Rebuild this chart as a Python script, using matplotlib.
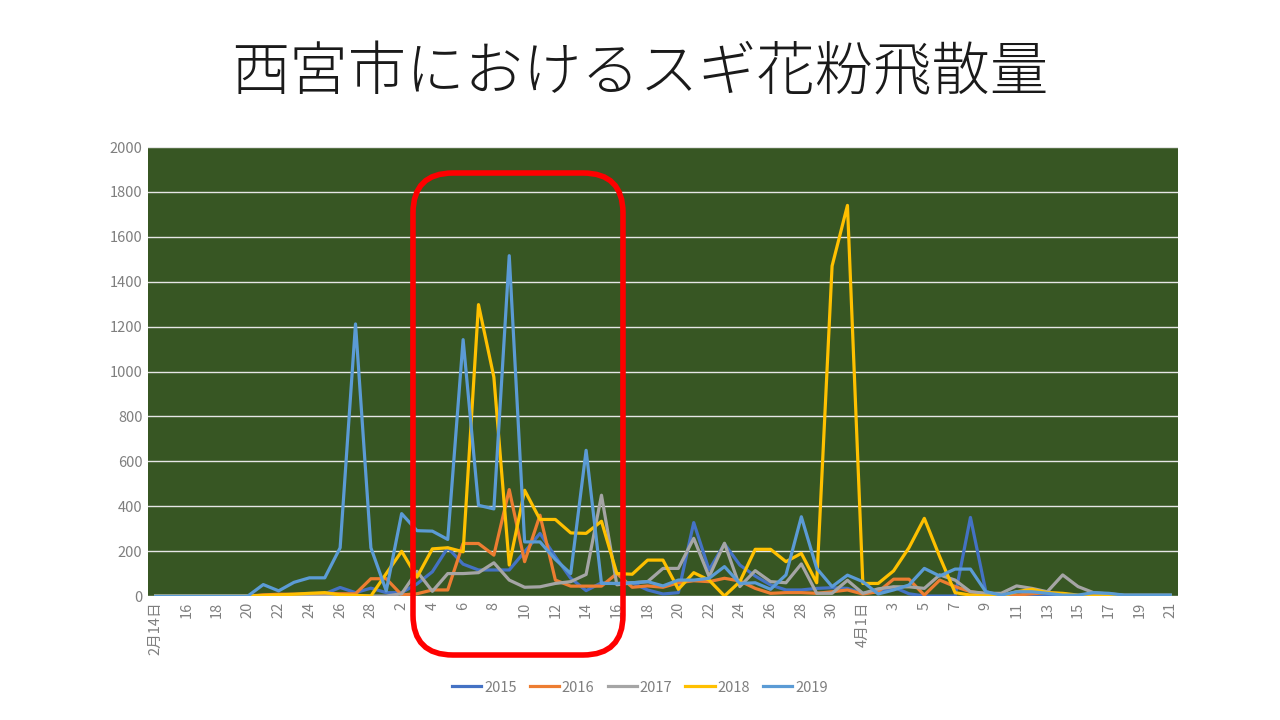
import matplotlib
matplotlib.use("Agg")
import matplotlib.pyplot as plt
from matplotlib.patches import FancyBboxPatch
import numpy as np
import pandas as pd

plt.rcParams['font.family'] = ['Noto Sans CJK JP', 'DejaVu Sans']

# daily pollen counts, Feb 14 .. Apr 21
dates = pd.date_range('2019-02-14', '2019-04-21', freq='D')

y2015 = [0, 0, 0, 0, 0, 0, 0, 0, 0, 0, 0, 10, 38, 15, 35, 15, 15, 54, 108, 215,
         142, 116, 116, 116, 197, 279, 175, 79, 24, 59, 55, 59, 27, 9, 15, 327, 116, 232, 138, 89,
         49, 27, 27, 34, 37, 34, 12, 19, 40, 10, 0, 0, 0, 350, 20, 0, 0, 0, 0, 0,
         0, 0, 0, 0, 0, 0, 0]
y2016 = [0, 0, 0, 0, 0, 0, 0, 5, 8, 8, 10, 12, 10, 10, 77, 77, 5, 10, 27, 27,
         234, 234, 182, 474, 153, 360, 71, 44, 44, 44, 100, 39, 45, 39, 59, 68, 64, 79, 67, 34,
         12, 15, 15, 12, 19, 27, 9, 19, 75, 75, 4, 71, 42, 19, 10, 4, 4, 10, 15, 10,
         0, 0, 0, 0, 0, 0, 0]
y2017 = [0, 0, 0, 0, 0, 0, 0, 0, 0, 0, 0, 0, 0, 0, 0, 0, 10, 110, 21, 100,
         100, 104, 148, 71, 39, 41, 56, 64, 96, 449, 50, 59, 64, 123, 123, 257, 86, 235, 42, 113,
         64, 59, 143, 12, 12, 70, 12, 32, 41, 41, 34, 94, 71, 19, 12, 12, 45, 34, 19, 94,
         42, 15, 9, 4, 4, 4, 4]
y2018 = [0, 0, 0, 0, 0, 0, 0, 3, 5, 8, 12, 15, 5, 3, 0, 100, 199, 84, 210, 215,
         197, 1298, 975, 138, 471, 341, 341, 281, 279, 333, 100, 97, 160, 160, 30, 104, 71, 0, 64, 208,
         208, 153, 190, 59, 1470, 1740, 56, 56, 112, 215, 346, 175, 15, 4, 0, 0, 19, 30, 15, 12,
         4, 0, 0, 0, 0, 0, 0]
y2019 = [0, 0, 0, 0, 0, 0, 0, 51, 23, 61, 81, 81, 215, 1212, 215, 23, 367, 291, 289, 252,
         1142, 404, 388, 1516, 241, 241, 163, 100, 649, 56, 56, 59, 64, 45, 71, 71, 79, 131, 56, 59,
         30, 94, 353, 123, 42, 93, 64, 9, 27, 49, 123, 89, 120, 120, 19, 4, 19, 19, 12, 4,
         4, 15, 12, 4, 4, 4, 4]

years = ['2015', '2016', '2017', '2018', '2019']
series = [y2015, y2016, y2017, y2018, y2019]
colors = ['#4472C4', '#ED7D31', '#A5A5A5', '#FFC000', '#5B9BD5']

labels = []
for i, d in enumerate(dates):
    if i == 0 or d.day == 1:
        labels.append(f'{d.month}月{d.day}日')
    else:
        labels.append(str(d.day))

fig = plt.figure(figsize=(12.8, 7.2), dpi=100)
ax = fig.add_axes([0.1156, 0.1722, 0.8047, 0.6236])
ax.set_facecolor('#375623')

x = np.arange(len(dates))
for name, vals, c in zip(years, series, colors):
    ax.plot(x, vals, color=c, lw=2.3, label=name)

ax.set_xlim(-0.5, len(dates) - 0.5)
ax.set_ylim(0, 2000)
ax.set_yticks(np.arange(0, 2001, 200))
ax.set_xticks(x[::2])
ax.set_xticklabels(labels[::2], rotation=90)
ax.tick_params(axis='both', length=0, labelsize=10.5, colors='#7f7f7f', pad=4)
ax.yaxis.grid(True, color='#e6e6e6', lw=1)
ax.set_axisbelow(True)
for s in ax.spines.values():
    s.set_visible(False)

fig.text(0.5, 0.898, '西宮市におけるスギ花粉飛散量', ha='center', va='center',
         fontsize=42, fontweight='light', color='#1a1a1a')

leg = fig.legend(loc='center', bbox_to_anchor=(0.5, 0.045), ncol=5, frameon=False,
                 fontsize=10.5, handlelength=2.0, columnspacing=0.9, handletextpad=0.2)
for t in leg.get_texts():
    t.set_color('#7f7f7f')

# red highlight box
box = FancyBboxPatch((4.13, 0.65), 2.10, 4.82, boxstyle='round,pad=0,rounding_size=0.4',
                     transform=fig.dpi_scale_trans, fill=False, ec='#ff0000', lw=4)
fig.patches.append(box)

fig.savefig('out.png', dpi=100)
